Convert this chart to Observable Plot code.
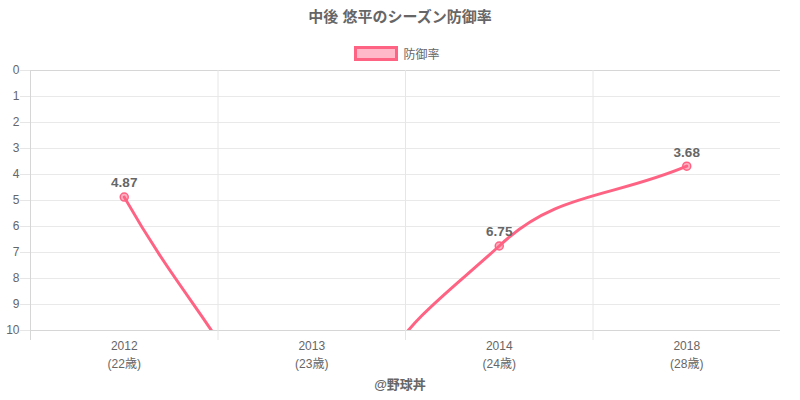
<!DOCTYPE html>
<html>
<head>
<meta charset="utf-8">
<script src="https://cdn.jsdelivr.net/npm/d3@7"></script>
<script src="https://cdn.jsdelivr.net/npm/@observablehq/plot@0.6"></script>
<style>
  html, body { margin: 0; padding: 0; background: #fff; }
  body { width: 800px; height: 400px; position: relative; overflow: hidden;
         font-family: "Helvetica Neue", Helvetica, Arial, "Liberation Sans", "Noto Sans CJK JP", sans-serif; color: #666; }
  #title { position: absolute; left: 0; top: 7px; width: 800px; text-align: center; font-size: 15px; font-weight: bold; color: #666; line-height: 20px; }
  #legend { position: absolute; left: 0; top: 45px; width: 800px; display: flex; justify-content: center; align-items: center; font-size: 12px; color: #666; }
  #legend .box { width: 44px; height: 15px; box-sizing: border-box; border: 3px solid #ff6384; background: rgba(255,99,132,0.45); margin-right: 5px; margin-left: -6px; }
  #chart { position: absolute; left: 0; top: 60px; }
  #caption { position: absolute; left: 0; top: 371px; width: 800px; height: 28px; line-height: 28px; text-align: center; font-size: 13px; font-weight: bold; color: #666; }
</style>
</head>
<body>
<div id="title">中後 悠平のシーズン防御率</div>
<div id="legend"><span class="box"></span><span>防御率</span></div>
<div id="chart"></div>
<div id="caption">@野球丼</div>
<script>
const years = ["2012", "2013", "2014", "2018"];
const ages = ["(22歳)", "(23歳)", "(24歳)", "(28歳)"];
const era = [4.87, 17.5, 6.75, 3.68];
const yTicks = [0, 1, 2, 3, 4, 5, 6, 7, 8, 9, 10];
const yMax = 10;

const W = 800, H = 320;
const M = {top: 10, right: 20, bottom: 50, left: 30};
const area = {l: M.left, r: W - M.right, t: M.top, b: H - M.bottom};

// Chart.js-like bezier spline (tension 0.4) with control points capped to the chart area
function chartjsCurve(tension, a) {
  return (context) => {
    let pts = [];
    return {
      areaStart() {}, areaEnd() {},
      lineStart() { pts = []; },
      point(x, y) { pts.push({x: +x, y: +y}); },
      lineEnd() {
        const n = pts.length;
        if (!n) return;
        const cap = (v, lo, hi) => Math.max(lo, Math.min(hi, v));
        const cps = pts.map((cur, i) => {
          const prev = pts[i - 1] || cur, next = pts[i + 1] || cur;
          const d01 = Math.hypot(cur.x - prev.x, cur.y - prev.y);
          const d12 = Math.hypot(next.x - cur.x, next.y - cur.y);
          let s01 = d01 / (d01 + d12), s12 = d12 / (d01 + d12);
          if (isNaN(s01)) s01 = 0;
          if (isNaN(s12)) s12 = 0;
          const fa = tension * s01, fb = tension * s12;
          return {
            px: cap(cur.x - fa * (next.x - prev.x), a.l, a.r),
            py: cap(cur.y - fa * (next.y - prev.y), a.t, a.b),
            nx: cap(cur.x + fb * (next.x - prev.x), a.l, a.r),
            ny: cap(cur.y + fb * (next.y - prev.y), a.t, a.b)
          };
        });
        context.moveTo(pts[0].x, pts[0].y);
        for (let i = 1; i < n; i++) {
          context.bezierCurveTo(cps[i - 1].nx, cps[i - 1].ny, cps[i].px, cps[i].py, pts[i].x, pts[i].y);
        }
      }
    };
  };
}

const idx = years.map((_, i) => i);
const visible = idx.filter(i => era[i] <= yMax);
const bounds = [-0.5, ...idx.slice(0, -1).map(i => i + 0.5)];

const chart = Plot.plot({
  width: W,
  height: H,
  marginTop: M.top,
  marginRight: M.right,
  marginBottom: M.bottom,
  marginLeft: M.left,
  style: {fontFamily: "'Helvetica Neue', Helvetica, Arial, 'Liberation Sans', 'Noto Sans CJK JP', sans-serif", fontSize: "12px", color: "#666", background: "transparent"},
  x: {type: "linear", domain: [-0.5, years.length - 0.5]},
  y: {domain: [0, yMax], reverse: true},
  marks: [
    Plot.ruleY(yTicks, {stroke: d => (d === 0 || d === 10) ? "#d6d6d6" : "#e9e9e9", strokeWidth: 1}),
    Plot.ruleX(bounds, {stroke: d => d === -0.5 ? "#d6d6d6" : "#e6e6e6", insetBottom: -10}),
    Plot.axisY(yTicks, {tickSize: 10, tickPadding: 1, stroke: "#e6e6e6", fill: "#666", fontSize: 12, label: null}),
    Plot.axisX(idx, {tickSize: 0, tickPadding: 7, fill: "#666", fontSize: 12, lineHeight: 1.5,
      tickFormat: i => years[i] + "\n" + ages[i], label: null}),
    Plot.line(idx, {x: i => i, y: i => era[i], stroke: "#ff6384", strokeWidth: 3,
      curve: chartjsCurve(0.4, area), clip: true}),
    Plot.dot(visible, {x: i => i, y: i => era[i], r: 4, fill: "rgba(255,99,132,0.5)", stroke: "#ff6384", strokeWidth: 1.5}),
    Plot.text(visible, {x: i => i, y: i => era[i], text: i => era[i].toFixed(2), dy: -14, fill: "#666",
      fontWeight: "bold", fontSize: 13.5})
  ]
});
document.getElementById("chart").appendChild(chart);
</script>
</body>
</html>
